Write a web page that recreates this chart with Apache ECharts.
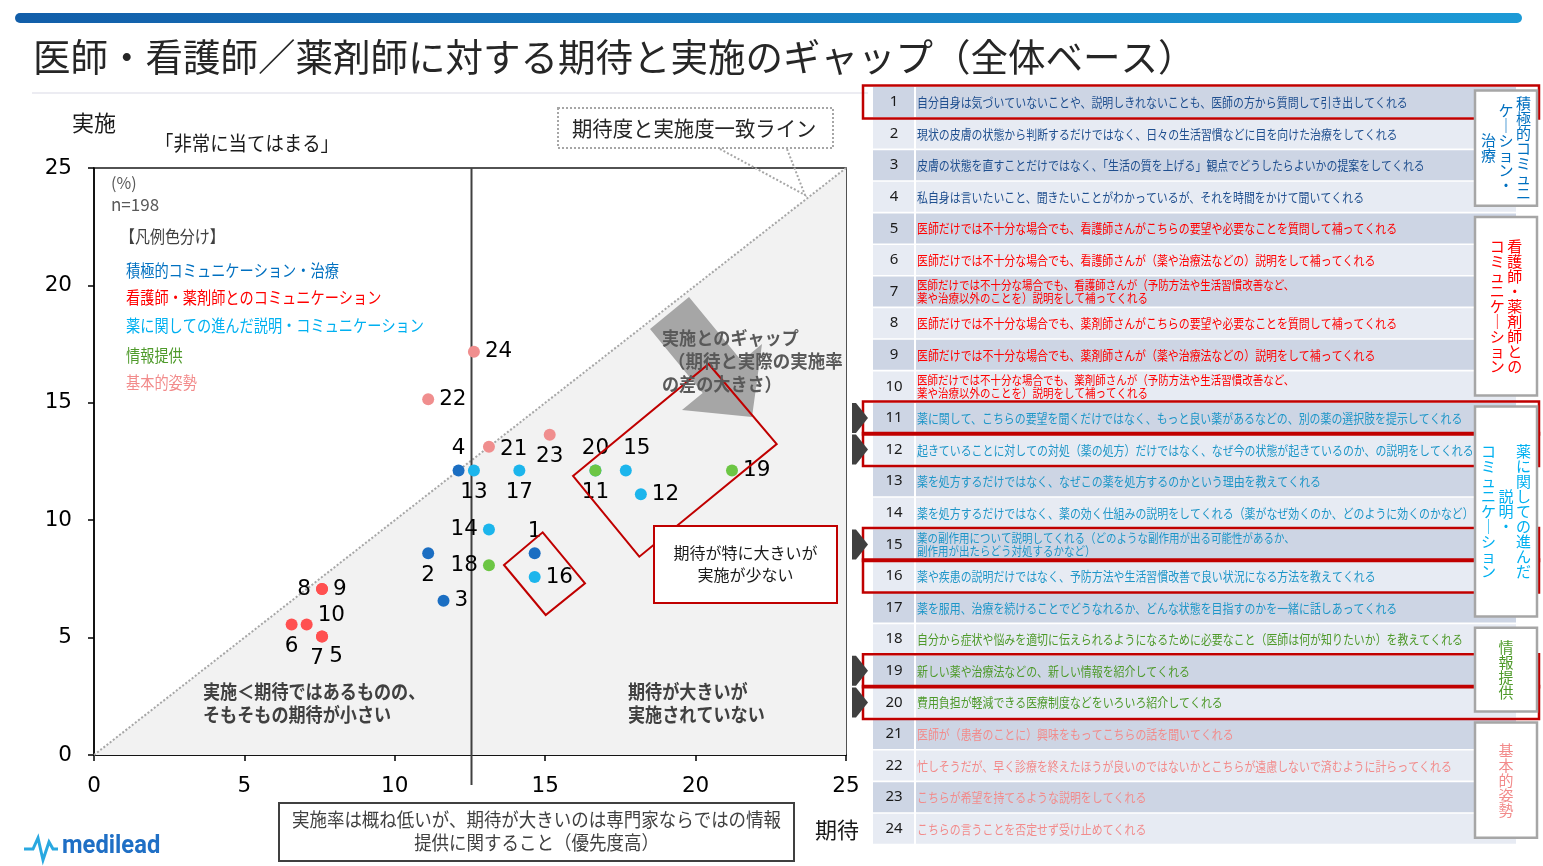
<!DOCTYPE html>
<html>
<head>
<meta charset="utf-8">
<script src="https://cdn.jsdelivr.net/npm/echarts@6.0.0/dist/echarts.min.js"></script>
<style>
html, body { margin: 0; padding: 0; background: #fff; }
#main { width: 1543px; height: 866px; }
</style>
</head>
<body>
<div id="main"></div>
<script>
'use strict';

// ---- data ----
var itemNo = [1, 2, 3, 4, 5, 6, 7, 8, 9, 10, 11, 12, 13, 14, 15, 16, 17, 18, 19, 20, 21, 22, 23, 24];
// 期待 (x) and 実施 (y), % of n=198
var expectVals = [14.65, 11.11, 11.62, 12.12, 7.58, 6.57, 7.58, 7.58, 7.58, 7.07, 16.67, 18.18,
                  12.63, 13.13, 17.68, 14.65, 14.14, 13.13, 21.21, 16.67, 13.13, 11.11, 15.15, 12.63];
var actualVals = [8.59, 8.59, 6.57, 12.12, 5.05, 5.56, 5.05, 7.07, 7.07, 5.56, 12.12, 11.11,
                  12.12, 9.60, 12.12, 7.58, 12.12, 8.08, 12.12, 12.12, 13.13, 15.15, 13.64, 17.17];
var itemGroup = [0, 0, 0, 0, 1, 1, 1, 1, 1, 1, 2, 2, 2, 2, 2, 2, 2, 3, 3, 3, 4, 4, 4, 4];
var groupNames = ['積極的コミュニケーション・治療', '看護師・薬剤師とのコミュニケーション',
                  '薬に関しての進んだ説明・コミュニケーション', '情報提供', '基本的姿勢'];
var groupColumns = [['積極的コミュニ', 'ケーション・', '治療'],
                    ['看護師・薬剤師との', 'コミュニケーション'],
                    ['薬に関しての進んだ', '説明・', 'コミュニケーション'],
                    ['情報提供'],
                    ['基本的姿勢']];
var axisTicks = [0, 5, 10, 15, 20, 25];
var avgExpect = 12.55;
var highlightRows = [1, 11, 12, 15, 16, 19, 20];
var arrowRows = [11, 12, 15, 19, 20];
var itemTexts = [
  '自分自身は気づいていないことや、説明しきれないことも、医師の方から質問して引き出してくれる',
  '現状の皮膚の状態から判断するだけではなく、日々の生活習慣などに目を向けた治療をしてくれる',
  '皮膚の状態を直すことだけではなく、「生活の質を上げる」観点でどうしたらよいかの提案をしてくれる',
  '私自身は言いたいこと、聞きたいことがわかっているが、それを時間をかけて聞いてくれる',
  '医師だけでは不十分な場合でも、看護師さんがこちらの要望や必要なことを質問して補ってくれる',
  '医師だけでは不十分な場合でも、看護師さんが（薬や治療法などの）説明をして補ってくれる',
  '医師だけでは不十分な場合でも、看護師さんが（予防方法や生活習慣改善など、\n薬や治療以外のことを）説明をして補ってくれる',
  '医師だけでは不十分な場合でも、薬剤師さんがこちらの要望や必要なことを質問して補ってくれる',
  '医師だけでは不十分な場合でも、薬剤師さんが（薬や治療法などの）説明をして補ってくれる',
  '医師だけでは不十分な場合でも、薬剤師さんが（予防方法や生活習慣改善など、\n薬や治療以外のことを）説明をして補ってくれる',
  '薬に関して、こちらの要望を聞くだけではなく、もっと良い薬があるなどの、別の薬の選択肢を提示してくれる',
  '起きていることに対しての対処（薬の処方）だけではなく、なぜ今の状態が起きているのか、の説明をしてくれる',
  '薬を処方するだけではなく、なぜこの薬を処方するのかという理由を教えてくれる',
  '薬を処方するだけではなく、薬の効く仕組みの説明をしてくれる（薬がなぜ効くのか、どのように効くのかなど）',
  '薬の副作用について説明してくれる（どのような副作用が出る可能性があるか、\n副作用が出たらどう対処するかなど）',
  '薬や疾患の説明だけではなく、予防方法や生活習慣改善で良い状況になる方法を教えてくれる',
  '薬を服用、治療を続けることでどうなれるか、どんな状態を目指すのかを一緒に話しあってくれる',
  '自分から症状や悩みを適切に伝えられるようになるために必要なこと（医師は何が知りたいか）を教えてくれる',
  '新しい薬や治療法などの、新しい情報を紹介してくれる',
  '費用負担が軽減できる医療制度などをいろいろ紹介してくれる',
  '医師が（患者のことに）興味をもってこちらの話を聞いてくれる',
  '忙しそうだが、早く診療を終えたほうが良いのではないかとこちらが遠慮しないで済むように計らってくれる',
  'こちらが希望を持てるような説明をしてくれる',
  'こちらの言うことを否定せず受け止めてくれる'
];

// ---- styling / layout ----
var JP = '"Noto Sans CJK JP", sans-serif';
var pointColors = ['#1B6EC2', '#FF5050', '#1CB5EC', '#6CC644', '#F08E8E'];
var textColors = ['#1F4F8F', '#FF0000', '#1E96C8', '#4E9A2A', '#F28B8B'];
var legendColors = ['#0070C0', '#FF0000', '#00B0F0', '#4E9A2A', '#F28B8B'];
var labelPlace = {
  1: ['top', [0, 0]], 2: ['bottom', [0, 0]], 3: ['right', [0, 0]], 4: ['top', [0, 0]],
  5: ['bottom', [14, -2]], 6: ['bottom', [0, 0]], 7: ['bottom', [-5, 0]], 8: ['left', [0, 0]],
  9: ['right', [0, 0]], 10: ['right', [0, -9]], 11: ['bottom', [0, 0]], 12: ['right', [0, 0]],
  13: ['bottom', [0, 0]], 14: ['left', [0, 0]], 15: ['top', [11, 0]], 16: ['right', [0, 0]],
  17: ['bottom', [0, 0]], 18: ['left', [0, 0]], 19: ['right', [0, 0]], 20: ['top', [0, 0]],
  21: ['right', [0, 3]], 22: ['right', [0, 0]], 23: ['bottom', [0, 0]], 24: ['right', [0, 0]]
};
var TABLE = { top: 87, pitch: 31.6, rowH: 30 };

function txt(x, y, s, size, color, o) {
  o = o || {};
  var st = {
    text: s, font: (o.bold ? 'bold ' : '') + size + 'px ' + (o.family || JP), fill: color,
    textAlign: o.align || 'left', textVerticalAlign: 'middle',
    align: o.align || 'left', verticalAlign: 'middle'
  };
  if (o.lh) st.lineHeight = o.lh;
  return { type: 'text', x: x, y: y, z: o.z || 30, scaleX: o.sx || 1, silent: true, style: st };
}

function rowTop(no) { return TABLE.top + (no - 1) * TABLE.pitch; }

var g = [];

// header
g.push({ type: 'rect', z: 5, shape: { x: 15, y: 13, width: 1507, height: 10, r: 5 },
  style: { fill: new echarts.graphic.LinearGradient(0, 0, 1, 0, [
    { offset: 0, color: '#125EA9' }, { offset: 1, color: '#1C9AD6' }]) } });
g.push(txt(33, 57, '医師・看護師／薬剤師に対する期待と実施のギャップ（全体ベース）', 37.5, '#262626'));
g.push({ type: 'line', z: 5, shape: { x1: 32, y1: 93, x2: 868, y2: 93 }, style: { stroke: '#ECECF2', lineWidth: 2 } });

// chart captions
g.push(txt(72, 123, '実施', 22, '#1a1a1a'));
g.push(txt(155, 143, '「非常に当てはまる」', 20, '#1a1a1a', { sx: 0.92 }));
g.push(txt(815, 830, '期待', 22, '#1a1a1a'));
g.push(txt(111, 183, '(%)', 16, '#595959'));
g.push(txt(111, 205, 'n=198', 17, '#595959'));
g.push(txt(120, 237, '【凡例色分け】', 17, '#404040', { sx: 0.88 }));
var legendY = [271, 298, 326, 356, 383];
groupNames.forEach(function (name, i) {
  g.push(txt(126, legendY[i], name, 16.5, legendColors[i], { sx: 0.86 }));
});

// quadrant notes
g.push(txt(203, 692, '実施＜期待ではあるものの、', 19, '#404040', { bold: true, sx: 0.9 }));
g.push(txt(203, 715, 'そもそもの期待が小さい', 19, '#404040', { bold: true, sx: 0.9 }));
g.push(txt(628, 692, '期待が大きいが', 19, '#404040', { bold: true, sx: 0.9 }));
g.push(txt(628, 715, '実施されていない', 19, '#404040', { bold: true, sx: 0.9 }));

// gap arrow
g.push({ type: 'polygon', z: 20, silent: true,
  shape: { points: [[650, 329], [689, 297], [741.7, 360.9], [762, 344], [752, 417], [682, 410], [702.7, 392.9]] },
  style: { fill: '#A6A6A6' } });
g.push(txt(662, 338, '実施とのギャップ', 18, '#595959', { bold: true, sx: 0.95 }));
g.push(txt(668, 361, '（期待と実際の実施率', 18, '#595959', { bold: true, sx: 0.97 }));
g.push(txt(662, 384, 'の差の大きさ）', 18, '#595959', { bold: true, sx: 0.95 }));

// red frames in the plot
g.push({ type: 'polygon', z: 25, silent: true,
  shape: { points: [[573, 476], [708.7, 364], [776.7, 444], [639.3, 556.7]] },
  style: { fill: 'none', stroke: '#C00000', lineWidth: 2 } });
g.push({ type: 'polygon', z: 25, silent: true,
  shape: { points: [[504, 565], [542.7, 532.3], [585, 583.3], [545.7, 615]] },
  style: { fill: 'none', stroke: '#C00000', lineWidth: 2 } });
g.push({ type: 'rect', z: 25, shape: { x: 654, y: 526, width: 183, height: 77 },
  style: { fill: '#fff', stroke: '#C00000', lineWidth: 2 } });
g.push(txt(745.5, 553, '期待が特に大きいが', 16, '#1a1a1a', { align: 'center' }));
g.push(txt(745.5, 575, '実施が少ない', 16, '#1a1a1a', { align: 'center' }));

// match-line callout
g.push({ type: 'rect', z: 25, shape: { x: 558, y: 108, width: 275, height: 40 },
  style: { fill: '#fff', stroke: '#A6A6A6', lineWidth: 2, lineDash: [2, 2] } });
g.push(txt(572, 128, '期待度と実施度一致ライン', 21, '#262626', { sx: 0.97 }));
g.push({ type: 'polyline', z: 25, shape: { points: [[720, 149], [805, 195], [787, 149]] },
  style: { fill: 'none', stroke: '#A6A6A6', lineWidth: 2, lineDash: [2, 2] } });

// bottom note
g.push({ type: 'rect', z: 25, shape: { x: 279, y: 803, width: 515, height: 58 },
  style: { fill: '#fff', stroke: '#404040', lineWidth: 2 } });
g.push(txt(536.5, 820, '実施率は概ね低いが、期待が大きいのは専門家ならではの情報', 19, '#404040', { align: 'center', sx: 0.92 }));
g.push(txt(536.5, 843, '提供に関すること（優先度高）', 19, '#404040', { align: 'center', sx: 0.92 }));

// logo
g.push({ type: 'polyline', z: 25, shape: { points: [[24, 849], [33, 849], [38, 838], [43, 860], [49, 842], [53, 849], [58, 849]] },
  style: { fill: 'none', stroke: '#29A8E0', lineWidth: 3 } });
g.push(txt(62, 847, 'medilead', 25, '#1F6FC5', { family: 'Roboto, sans-serif', bold: true, sx: 0.95 }));

// item table
itemTexts.forEach(function (t, i) {
  var no = itemNo[i];
  var top = rowTop(no);
  var bg = i % 2 === 0 ? '#CDD5E4' : '#E7EBF3';
  g.push({ type: 'rect', z: 10, shape: { x: 873, y: top, width: 41, height: TABLE.rowH }, style: { fill: bg } });
  g.push({ type: 'rect', z: 10, shape: { x: 916, y: top, width: 600, height: TABLE.rowH }, style: { fill: bg } });
  g.push(txt(894, top + TABLE.rowH / 2, String(no), 15, '#1a1a1a', { align: 'center', family: '"Noto Sans", sans-serif', z: 12 }));
  var two = t.indexOf('\n') >= 0;
  g.push(txt(917, top + TABLE.rowH / 2, t, two ? 12.5 : 13, textColors[itemGroup[i]],
    { sx: 0.84, lh: two ? 13 : undefined, z: 12 }));
});
highlightRows.forEach(function (no) {
  g.push({ type: 'rect', z: 14, shape: { x: 863, y: rowTop(no) - 1.5, width: 676, height: TABLE.pitch + 1.4 },
    style: { fill: 'none', stroke: '#C00000', lineWidth: 2.5 } });
});
arrowRows.forEach(function (no) {
  var c = rowTop(no) + TABLE.rowH / 2;
  g.push({ type: 'polygon', z: 14, shape: { points: [[852, c - 15], [856, c - 15], [868, c], [856, c + 15], [852, c + 15]] },
    style: { fill: '#404040' } });
});
groupColumns.forEach(function (cols, gi) {
  var rows = itemNo.filter(function (n, i) { return itemGroup[i] === gi; });
  var y0 = rowTop(rows[0]) + 3.5;
  var y1 = rowTop(rows[rows.length - 1]) + TABLE.rowH - 6;
  g.push({ type: 'rect', z: 16, shape: { x: 1475, y: y0, width: 62, height: y1 - y0 },
    style: { fill: '#fff', stroke: '#A6A6A6', lineWidth: 2.5 } });
  var n = cols.length;
  cols.forEach(function (col, ci) {
    var cx = 1506 + ((n - 1) / 2 - ci) * 17.5;
    var vert = col.replace(/ー/g, '｜').split('').join('\n');
    g.push(txt(cx, (y0 + y1) / 2, vert, 15, legendColors[gi], { align: 'center', lh: 15, z: 18 }));
  });
});

// ---- chart ----
var chart = echarts.init(document.getElementById('main'));

var scatterSeries = groupNames.map(function (name, gi) {
  var data = [];
  itemNo.forEach(function (no, i) {
    if (itemGroup[i] !== gi) return;
    var p = labelPlace[no];
    data.push({ name: String(no), value: [expectVals[i], actualVals[i]], label: { position: p[0], offset: p[1] } });
  });
  return {
    type: 'scatter', name: name, z: 5, symbolSize: 12,
    itemStyle: { color: pointColors[gi], opacity: 1 },
    label: { show: true, formatter: '{b}', fontSize: 21.5, color: '#000', fontFamily: '"DejaVu Sans", sans-serif' },
    emphasis: { disabled: true },
    data: data
  };
});

var lo = axisTicks[0], hi = axisTicks[axisTicks.length - 1], step = axisTicks[1] - axisTicks[0];

function axis() {
  return {
    type: 'value', min: lo, max: hi, interval: step,
    axisLine: { show: true, lineStyle: { color: '#000', width: 1.5 } },
    axisTick: { show: true, inside: false, length: 6, lineStyle: { color: '#000', width: 1.5 } },
    splitLine: { show: false },
    axisLabel: { fontSize: 21.5, color: '#000', fontFamily: '"DejaVu Sans", sans-serif', showMinLabel: true, showMaxLabel: true }
  };
}
var xAx = axis(); xAx.axisLabel.margin = 20;
var yAx = axis(); yAx.axisLabel.margin = 22;

var option = {
  animation: false,
  backgroundColor: '#fff',
  grid: { left: 94, top: 168, width: 752, height: 587, show: true, borderColor: '#1a1a1a', borderWidth: 1.5,
    containLabel: false, outerBoundsMode: 'none' },
  xAxis: xAx,
  yAxis: yAx,
  graphic: { elements: g },
  series: [
    {
      type: 'custom', z: 1, silent: true,
      data: [[hi, hi]],
      renderItem: function (params, api) {
        return { type: 'polygon', shape: { points: [api.coord([lo, lo]), api.coord([hi, lo]), api.coord([hi, hi])] },
          style: { fill: '#F2F2F2' } };
      }
    },
    {
      type: 'line', z: 2, silent: true, symbol: 'none',
      data: [[lo, lo], [hi, hi]],
      lineStyle: { color: '#A6A6A6', width: 2, type: [2, 2] }
    },
    {
      type: 'custom', z: 3, silent: true, clip: false,
      data: [[avgExpect, hi]],
      renderItem: function (params, api) {
        var a = api.coord([api.value(0), hi]);
        var b = api.coord([api.value(0), lo]);
        return { type: 'line', shape: { x1: a[0], y1: a[1], x2: b[0], y2: b[1] + 30 },
          style: { stroke: '#404040', lineWidth: 2 } };
      }
    }
  ].concat(scatterSeries)
};

chart.setOption(option);
</script>
</body>
</html>
